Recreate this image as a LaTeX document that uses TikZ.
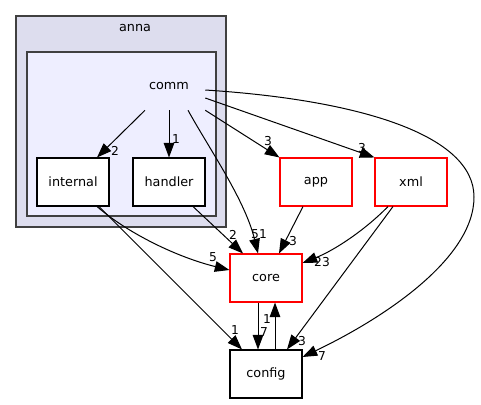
\documentclass[tikz,border=0pt]{standalone}
\usepackage{fontspec}
\setmainfont{DejaVu Sans}
\usetikzlibrary{calc,arrows.meta,positioning}

\definecolor{annafill}{HTML}{DDDDEE}
\definecolor{commfill}{HTML}{EEEEFF}
\definecolor{clusterline}{HTML}{404040}

\tikzset{
  dirbox/.style={draw=black,line width=0.8pt,fill=white,minimum width=54pt,
    minimum height=36pt,inner sep=0pt,font=\fontsize{9.6}{11}\selectfont},
  redbox/.style={dirbox,draw=red},
  cluster/.style={draw=clusterline,line width=1.2pt},
  dep/.style={-{Triangle[length=11pt,width=8pt]},line width=0.75pt,black},
  lbl/.style={font=\fontsize{9.2}{10}\selectfont,inner sep=0pt}
}

\begin{document}
\begin{tikzpicture}[x=0.75pt,y=-0.75pt]
\useasboundingbox (0,0) rectangle (481,404);

% clusters
\draw[cluster,fill=annafill] (16,16) rectangle (226,227);
\node[font=\fontsize{9.6}{11}\selectfont] (anna) at (135,28) {anna};
\draw[cluster,fill=commfill] (27,52) rectangle (216,216);
\node[minimum width=54pt,minimum height=36pt,inner sep=0pt,
  font=\fontsize{9.6}{11}\selectfont] (comm) at (169,86) {comm};

% directories
\node[dirbox] (internal) at (73,182) {internal};
\node[dirbox] (handler) at (169,182) {handler};
\node[redbox] (app) at (316,182) {app};
\node[redbox] (xml) at (411,182) {xml};
\node[redbox] (core) at (266,278) {core};
\node[dirbox] (config) at (266,374) {config};

% dependencies
\draw[dep] ($(comm.south)+(-24,0)$) -- ($(internal.north)+(24,0)$)
  node[lbl] at (115,151) {2};
\draw[dep] (comm.south) -- (handler.north)
  node[lbl] at (176,139) {1};
\draw[dep] ($(comm.south)+(19,0)$) .. controls (210,150) and (245,200) ..
  ($(core.north)+(-8,0)$) node[lbl] at (259,234) {51};
\draw[dep] (comm.south east) -- (app.north west)
  node[lbl] at (268,141) {3};
\draw[dep] ($(comm.east)+(0,12)$) -- (xml.north west)
  node[lbl] at (362,148) {3};
\draw[dep] ($(comm.east)+(0,4)$) .. controls (360,100) and (474,135) .. (474,197)
  .. controls (474,260) and (380,320) .. ($(config.east)+(0,-17)$)
  node[lbl] at (322,356) {7};
\draw[dep] ($(internal.south)+(24,0)$) .. controls (130,235) and (180,258) ..
  ($(core.west)+(0,-8)$) node[lbl] at (213,257) {5};
\draw[dep] ($(internal.south)+(26,0)$) -- ($(config.north)+(-24,0)$)
  node[lbl] at (235,330) {1};
\draw[dep] ($(handler.south)+(24,0)$) -- ($(core.north)+(-23,0)$)
  node[lbl] at (233,235) {2};
\draw[dep] ($(app.south)+(-13,0)$) -- ($(core.north)+(13,0)$)
  node[lbl] at (293,241) {3};
\draw[dep] ($(xml.south)+(-23,0)$) .. controls (365,230) and (335,250) ..
  ($(core.east)+(0,-15)$) node[lbl] at (322,262) {23};
\draw[dep] ($(xml.south)+(-18,0)$) -- ($(config.north)+(21,0)$)
  node[lbl] at (302,341) {3};
\draw[dep] ($(core.south)+(-8,0)$) -- ($(config.north)+(-8,0)$)
  node[lbl] at (264,332) {7};
\draw[dep] ($(config.north)+(9,0)$) -- ($(core.south)+(9,0)$)
  node[lbl] at (267,319) {1};
\end{tikzpicture}
\end{document}
